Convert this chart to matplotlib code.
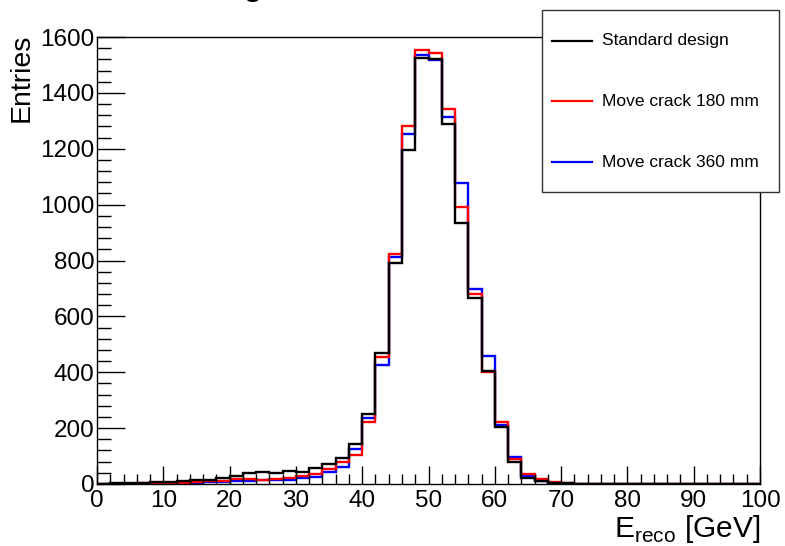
import matplotlib
matplotlib.use("Agg")
import matplotlib.pyplot as plt
from matplotlib.patches import Rectangle
from matplotlib.lines import Line2D
from matplotlib.ticker import MultipleLocator
import numpy as np

bin_edges = np.arange(0, 102, 2)

standard = [1, 2, 3, 4, 6, 8, 10, 13, 16, 22,
            27, 40, 44, 39, 45, 43, 58, 70, 94, 142,
            249, 468, 792, 1196, 1524, 1520, 1289, 935, 665, 406,
            203, 80, 23, 12, 5, 2, 1, 0, 0, 0,
            0, 0, 0, 0, 0, 0, 0, 0, 0, 0]
crack180 = [0, 1, 1, 2, 3, 4, 5, 7, 9, 12,
            17, 19, 15, 17, 20, 28, 36, 55, 80, 104,
            221, 456, 822, 1282, 1554, 1542, 1342, 993, 680, 402,
            222, 89, 35, 17, 6, 2, 1, 0, 0, 0,
            0, 0, 0, 0, 0, 0, 0, 0, 0, 0]
crack360 = [0, 0, 1, 1, 2, 3, 4, 5, 6, 8,
            10, 11, 15, 16, 14, 22, 24, 44, 62, 125,
            237, 426, 811, 1254, 1536, 1518, 1313, 1076, 698, 458,
            210, 95, 27, 10, 4, 1, 0, 0, 0, 0,
            0, 0, 0, 0, 0, 0, 0, 0, 0, 0]

labels = ["Standard design", "Move crack 180 mm", "Move crack 360 mm"]
colors = ["black", "#ff0000", "#0000ff"]

plt.rcParams['font.family'] = ['Liberation Sans', 'DejaVu Sans']

W, H = 785, 546
fig = plt.figure(figsize=(W / 100, H / 100), dpi=100)
ax = fig.add_axes([97 / W, 1 - 484 / H, (760 - 97) / W, (484 - 37) / H])

ax.stairs(crack360, bin_edges, color=colors[2], linewidth=1.7, baseline=0)
ax.stairs(crack180, bin_edges, color=colors[1], linewidth=1.7, baseline=0)
ax.stairs(standard, bin_edges, color=colors[0], linewidth=1.7, baseline=0)

ax.set_xlim(0, 100)
ax.set_ylim(0, 1600)
ax.xaxis.set_major_locator(MultipleLocator(10))
ax.xaxis.set_minor_locator(MultipleLocator(2))
ax.yaxis.set_major_locator(MultipleLocator(200))
ax.yaxis.set_minor_locator(MultipleLocator(40))
ax.tick_params(axis='both', which='both', direction='in', labelsize=17.5, width=1.0)
ax.tick_params(axis='x', which='major', length=13, pad=4)
ax.tick_params(axis='x', which='minor', length=7)
ax.tick_params(axis='y', which='major', length=20, pad=2)
ax.tick_params(axis='y', which='minor', length=10)
for s in ax.spines.values():
    s.set_linewidth(1.0)

ax.set_xlabel(r"E$_{\mathregular{reco}}$ [GeV]", fontsize=21.5, ha='right', va='top')
ax.xaxis.set_label_coords(1.0, -(513 - 484) / 447)
ax.set_ylabel("Entries", fontsize=20.5, ha='right', va='bottom')
ax.yaxis.set_label_coords(-(97 - 35) / 663, 1.0 + 3 / 447)

# partially visible title descender
fig.text(253 / W, 1 + 6 / H, "g", fontsize=26, ha='center', va='baseline')

# legend box
lx0, lx1, ly0, ly1 = 542 / W, 779 / W, 1 - 192 / H, 1 - 10 / H
fig.patches.append(Rectangle((lx0, ly0), lx1 - lx0, ly1 - ly0, transform=fig.transFigure,
                             facecolor='white', edgecolor='#333333', linewidth=1.0, zorder=10))
ys = [41, 101, 162]
for lab, col, yy in zip(labels, colors, ys):
    yf = 1 - yy / H
    fig.lines.append(Line2D([552 / W, 592 / W], [yf, yf], transform=fig.transFigure,
                            color=col, linewidth=1.6, zorder=11))
    fig.text(602 / W, yf, lab, fontsize=12.5, ha='left', va='center', zorder=12)

fig.savefig("out.png", dpi=100)
